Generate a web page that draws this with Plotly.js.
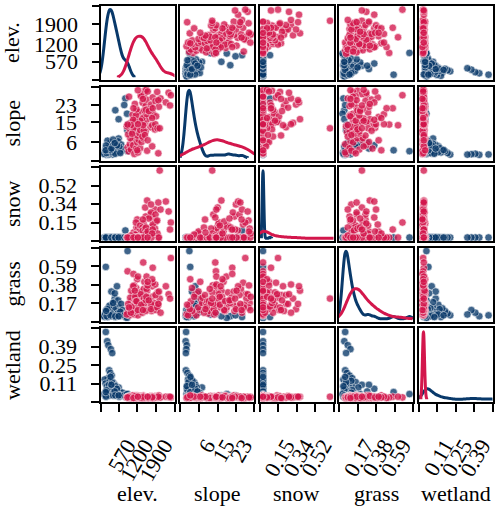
<!DOCTYPE html>
<html><head><meta charset="utf-8">
<script src="https://cdn.plot.ly/plotly-3.0.1.min.js"></script>
<style>html,body{margin:0;padding:0;background:#fff}#chart{width:500px;height:509px}</style>
</head><body><div id="chart"></div><script>
const variables = ['elev.', 'slope', 'snow', 'grass', 'wetland'];
const tickLabels = [['570','1200','1900'], ['6','15','23'], ['0.15','0.34','0.52'], ['0.17','0.38','0.59'], ['0.11','0.25','0.39']];

// class 1 (blue)
const blueElev = [100,150,190,280,330,220,260,310,180,350,420,560,60,90,140,200,240,300,360,400,450,500,540,600,650,700,40,80,120,170,210,250,290,330,380,230,270,160,480,520,130,320,440,360,580,270,110,620,880,100,500,300,420,440,800,760,860,870,560,900];
const blueSlope = [0.3,0.1,0.6,0.4,0.2,0.2,0.9,1.7,2.2,4.0,4.6,7.6,1.2,2.8,1.5,0.7,3.2,2.4,1.1,5.2,2.0,3.6,6.3,1.6,4.8,2.6,0.5,1.9,3.0,1.3,2.1,1.6,0.8,3.4,2.7,4.2,5.8,6.6,1.2,2.9,0.9,1.4,0.6,7.1,3.9,2.3,4.4,0.9,1.8,2.2,4.5,3.0,5.5,20.6,26.0,23.0,19.0,11.5,16.5,14.0];
const blueSnow = [0,0,0,0,0,0,0,0,0,0,0,0,0,0,0,0,0,0,0,0,0,0,0,0,0,0,0,0,0,0,0,0,0,0,0,0,0,0,0,0,0,0,0,0,0,0,0,0,0,0,0,0,0,0,0.07,0,0,0,0,0];
const blueGrass = [0.03,0.02,0.06,0.09,0.04,0.03,0.05,0.08,0.11,0.15,0.22,0.12,0.01,0.04,0.07,0.02,0.10,0.06,0.03,0.18,0.13,0.08,0.20,0.05,0.16,0.09,0.02,0.05,0.09,0.01,0.04,0.12,0.02,0.07,0.11,0.14,0.06,0.10,0.03,0.05,0.02,0.04,0.01,0.17,0.02,0.03,0.08,0.07,0.76,0.58,0.36,0.30,0.28,0.02,0.01,0.03,0.00,0.04,0.02,0.05];
const blueWet = [0.50,0.43,0.40,0.37,0.34,0.21,0.19,0.17,0.15,0.12,0.10,0.08,0.14,0.11,0.09,0.07,0.13,0.06,0.05,0.08,0.04,0.06,0.03,0.05,0.02,0.04,0.03,0.02,0.05,0.03,0.10,0.04,0.08,0.03,0.06,0.02,0.05,0.04,0.07,0.03,0.06,0.12,0.09,0.02,0.01,0.16,0.01,0.02,0.03,0.045,0.07,0.10,0.05,0.02,0.01,0.02,0.03,0.01,0.02,0.01];

// class 2 (red)
const redElev = [880,920,960,1000,1050,1080,1120,1150,1190,1230,1280,1330,1380,1440,1250,1580,1760,1980,1225,975,
 900,950,1010,1060,1100,1140,1170,1200,1225,1260,1110,1060,1310,1340,1360,1390,1180,1330,1480,1510,1040,1580,1700,1740,1450,1520,1760,1790,1400,1860,1870,1900,1950,2030,1330,1560,850,1150,1460,1410,1250,1500,1180,1080,1000,
 1200,1420,1350,1530,1500,1560,1720,1470,1720,1780,1480,1880,1940,2000,2060,1620,1370,2250,1540,2350,2430,1250,1550,930,1140,1640,1980,1600,2400,1430,
 1780,1440,880,1090,1250,1760,1600];
const redSlope = [3.5,1.7,5.0,2.5,6.5,4.5,0.5,7.5,3.0,5.8,7.0,3.1,6.0,7.7,1.2,2.0,4.0,0.8,2.2,7.8,
 9.5,12.0,15.0,10.5,13.5,17.0,11.0,14.5,9.0,16.0,12.5,18.5,10.0,14.0,19.5,13.0,15.5,11.5,17.5,14.8,9.8,16.5,12.8,18.0,15.2,10.8,13.7,19.0,16.8,11.8,14.2,17.8,12.3,12.3,15.8,18.8,13.2,15.8,11.2,8.5,19.8,9.2,18.2,16.2,13.8,
 21.0,24.0,27.5,22.5,29.5,25.5,21.8,28.0,23.2,26.5,20.5,24.8,29.0,22.2,26.0,21.2,27.0,24.2,20.8,28.6,27.5,29.8,30.0,26.8,23.5,20.2,25.2,29.2,22.8,25.8,
 21.5,13.7,14.0,21.5,14.2,17.0,6.8];
const redSnow = [0,0,0,0,0,0.02,0,0,0,0.04,0,0,0.06,0,0,0,0.03,0,0,0,
 0,0,0,0,0.05,0,0,0.10,0.18,0.10,0,0,0,0.08,0.12,0,0.15,0,0.06,0.30,0,0.37,0.23,0,0.14,0,0.20,0.11,0,0.09,0.28,0.16,0.04,0.67,0.12,0,0,0.03,0,0.10,0,0.05,0,0,0.02,
 0,0.07,0,0.21,0.09,0,0.25,0,0.33,0.13,0,0.23,0.17,0,0.28,0.08,0,0.36,0.10,0.26,0.15,0,0.04,0,0,0.19,0.35,0.06,0.08,0.18,
 0.08,0,0,0,0,0.04,0];
const redGrass = [0.06,0.13,0.03,0.19,0.09,0.27,0.04,0.15,0.34,0.12,0.22,0.08,0.30,0.17,0.03,0.10,0.24,0.15,0.44,0.23,
 0.16,0.10,0.31,0.05,0.13,0.20,0.08,0.16,0.26,0.12,0.37,0.09,0.19,0.15,0.29,0.10,0.23,0.17,0.41,0.22,0.13,0.31,0.16,0.08,0.27,0.19,0.36,0.12,0.24,0.17,0.38,0.09,0.29,0.22,0.15,0.47,0.04,0.24,0.33,0.06,0.16,0.10,0.19,0.36,0.06,
 0.19,0.13,0.27,0.08,0.17,0.33,0.16,0.22,0.10,0.40,0.17,0.26,0.12,0.30,0.06,0.23,0.15,0.36,0.20,0.27,0.68,0.09,0.24,0.12,0.31,0.20,0.16,0.37,0.22,0.09,
 0.57,0.63,0.53,0.50,0.47,0.44,0.41];
const redWet = [0.005,0.01,0,0.015,0.005,0.01,0,0.02,0.01,0.005,0,0.015,0.01,0.005,0.01,0,0.01,0.005,0.02,0.01,
 0.01,0.005,0,0.01,0.015,0.005,0.01,0,0.01,0.005,0.01,0.02,0.005,0.01,0,0.01,0.005,0.015,0.01,0.005,0,0.01,0.005,0.01,0.02,0.01,0.005,0,0.01,0.005,0.01,0.015,0.005,0.01,0,0.01,0.005,0.01,0,0.01,0.005,0.01,0.015,0.005,0.01,
 0.01,0.005,0,0.01,0.005,0.01,0.015,0.005,0.01,0,0.01,0.005,0.01,0.02,0.005,0.01,0,0.01,0.005,0.01,0.005,0.01,0.005,0.01,0.015,0,0.01,0.005,0.01,0,
 0.01,0.01,0.005,0,0.01,0.005,0.01];

const classes = [
  {name: 'blue', color: '#09396a', cols: [blueElev, blueSlope, blueSnow, blueGrass, blueWet]},
  {name: 'red', color: '#d3174c', cols: [redElev, redSlope, redSnow, redGrass, redWet]}
];

// layout geometry (pixels)
const W = 500, H = 509;
const FONT = '"Liberation Serif", "DejaVu Serif", serif';
const colLeft = [100.5, 180, 259.5, 339, 418.5];
const rowTop = [6, 86.5, 167, 247.5, 328];
const PANEL = 74;
const axRange = [[-90, 2560], [-2.5, 31.5], [-0.035, 0.705], [-0.04, 0.80], [-0.03, 0.53]];
const diagRange = [-0.02, 0.527];
// kernel bandwidth overrides (nearly-constant samples, skewed snow sample)
const bwOverride = {'blue-2': 0.008, 'red-2': 0.05, 'red-4': 0.006};

function tickVals(v) { return [axRange[v][0]].concat(tickLabels[v].map(Number), [axRange[v][1]]); }
function tickText(v) { return [''].concat(tickLabels[v], ['']); }
const tickStyle = {ticks: 'outside', ticklen: 8, tickwidth: 2, tickcolor: '#000', tickmode: 'array',
  tickfont: {family: FONT, size: 22, color: '#000'}};
const base = {type: 'linear', showline: true, mirror: true, linecolor: '#000', linewidth: 2,
  showgrid: false, zeroline: false, fixedrange: true, automargin: false};

const traces = [];
const layout = {width: W, height: H, margin: {l: 0, r: 0, t: 0, b: 0}, paper_bgcolor: '#fff', plot_bgcolor: '#fff',
  showlegend: false, violingap: 0, violingroupgap: 0, violinmode: 'overlay',
  font: {family: FONT, size: 22, color: '#000'}, annotations: []};

for (let i = 0; i < 5; i++) {
  for (let j = 0; j < 5; j++) {
    const k = i * 5 + j + 1;
    const sx = k === 1 ? '' : String(k);
    const xd = [colLeft[j] / W, (colLeft[j] + PANEL) / W];
    const yd = [1 - (rowTop[i] + PANEL) / H, 1 - rowTop[i] / H];
    const xa = Object.assign({}, base, {domain: xd, range: axRange[j], anchor: 'y' + sx});
    if (i === 4) Object.assign(xa, tickStyle, {tickvals: tickVals(j), ticktext: tickText(j), tickangle: -60,
      ticklabelshift: 8, ticklabelstandoff: 12});
    else Object.assign(xa, {ticks: '', showticklabels: false});
    const ya = Object.assign({}, base, {domain: yd, anchor: 'x' + sx});
    if (i === j) {
      ya.range = diagRange;
      Object.assign(ya, {ticks: '', showticklabels: false});
    } else {
      ya.range = axRange[i];
      if (j === 0) Object.assign(ya, tickStyle, {tickvals: tickVals(i), ticktext: tickText(i), ticklabelstandoff: 9});
      else Object.assign(ya, {ticks: '', showticklabels: false});
    }
    layout['xaxis' + sx] = xa;
    layout['yaxis' + sx] = ya;

    classes.forEach(c => {
      if (i === j) {
        const tr = {type: 'violin', x: c.cols[j], y0: 0, orientation: 'h', side: 'positive', points: false,
          fillcolor: 'rgba(0,0,0,0)', line: {color: c.color, width: 3}, scalemode: 'width', scalegroup: 'd' + j,
          box: {visible: false}, meanline: {visible: false}, hoverinfo: 'skip', name: c.name,
          xaxis: 'x' + sx, yaxis: 'y' + sx};
        const bw = bwOverride[c.name + '-' + j];
        if (bw) tr.bandwidth = bw;
        traces.push(tr);
      } else {
        traces.push({type: 'scatter', mode: 'markers', x: c.cols[j], y: c.cols[i], name: c.name,
          marker: {size: 7.5, color: c.color, opacity: 0.78, line: {color: '#fff', width: 0.6}},
          hoverinfo: 'skip', xaxis: 'x' + sx, yaxis: 'y' + sx});
      }
    });
  }
}
// elevation scale shown on the left of the first (diagonal) panel
layout.yaxis26 = Object.assign({}, base, tickStyle, {overlaying: 'y', anchor: 'x', side: 'left', range: axRange[0],
  showline: false, mirror: false, tickvals: tickVals(0), ticktext: tickText(0), ticklabelstandoff: 9});
traces.push({type: 'scatter', mode: 'markers', x: [], y: [], xaxis: 'x', yaxis: 'y26', hoverinfo: 'skip'});

// variable names
for (let v = 0; v < 5; v++) {
  layout.annotations.push({text: variables[v], xref: 'paper', yref: 'paper', showarrow: false,
    x: (colLeft[v] + PANEL / 2) / W, y: 1 - 493 / H, xanchor: 'center', yanchor: 'middle',
    font: {family: FONT, size: 22, color: '#000'}});
  layout.annotations.push({text: variables[v], xref: 'paper', yref: 'paper', showarrow: false, textangle: -90,
    x: 12 / W, y: 1 - (rowTop[v] + PANEL / 2) / H, xanchor: 'center', yanchor: 'middle',
    font: {family: FONT, size: 22, color: '#000'}});
}

Plotly.newPlot('chart', traces, layout, {staticPlot: true, displayModeBar: false});
</script></body></html>
